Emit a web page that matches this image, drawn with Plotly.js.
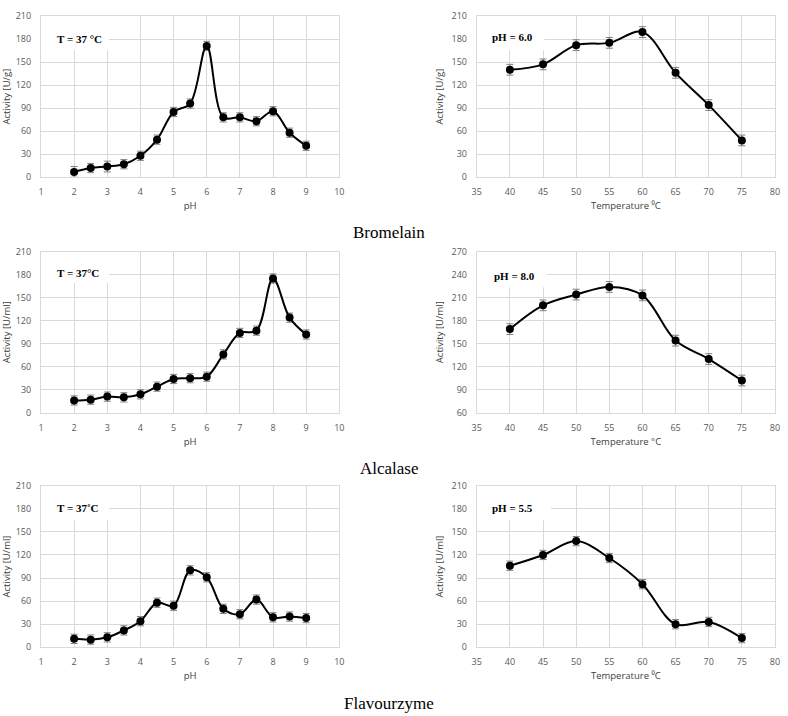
<!DOCTYPE html>
<html><head><meta charset="utf-8">
<script src="https://cdn.plot.ly/plotly-3.0.1.min.js"></script>
<style>html,body{margin:0;padding:0;background:#fff}</style>
</head><body><div id="chart" style="width:788px;height:716px"></div>
<script>
// ---- data ----
const phLevels = [2, 2.5, 3, 3.5, 4, 4.5, 5, 5.5, 6, 6.5, 7, 7.5, 8, 8.5, 9];
const tempLevels = [40, 45, 50, 55, 60, 65, 70, 75];

const bromelainPh = [7, 12, 14, 17, 28, 49, 85, 96, 171, 78, 78, 73, 86, 58, 41];
const bromelainPhErr = [7, 6, 7, 6, 6, 6, 6, 6, 6, 6, 6, 6, 6, 6, 6];
const bromelainTemp = [140, 147, 172, 175, 189, 136, 94, 48];
const bromelainTempErr = [7, 7, 7, 7, 7, 7, 7, 7];

const alcalasePh = [16, 17, 21, 20, 24, 34, 44, 45, 47, 76, 104, 107, 175, 124, 102];
const alcalasePhErr = [6, 6, 6, 6, 6, 6, 6, 6, 6, 6, 6, 6, 6, 6, 6];
const alcalaseTemp = [169, 200, 214, 224, 213, 154, 130, 102];
const alcalaseTempErr = [7, 7, 7, 7, 7, 7, 7, 7];

const flavourzymePh = [11, 10, 13, 22, 34, 58, 54, 100, 91, 50, 43, 62, 39, 40, 38];
const flavourzymePhErr = [6, 6, 6, 6, 6, 6, 6, 6, 6, 6, 6, 6, 6, 6, 6];
const flavourzymeTemp = [106, 120, 138, 116, 82, 30, 33, 12];
const flavourzymeTempErr = [6, 6, 6, 6, 6, 6, 6, 6];

const enzymeNames = ['Bromelain', 'Alcalase', 'Flavourzyme'];
const phNotes = ['T = 37 °C', 'T = 37°C', 'T = 37˚C'];
const tempNotes = ['pH = 6.0', 'pH = 8.0', 'pH = 5.5'];
const yTitlesLeft = ['Activity [U/g]', 'Activity [U/ml]', 'Activity [U/ml]'];
const yTitlesRight = ['Activity [U/g]', 'Activity [U/ml]', 'Activity [U/ml]'];
const tempTitles = ['Temperature ⁰C', 'Temperature °C', 'Temperature ⁰C'];

// ---- styling ----
const GRID = '#d9d9d9';
const TICKC = '#595959';
const tickFont = {family: "'Liberation Sans Narrow', 'Open Sans', sans-serif", size: 9, color: TICKC};
const titleFont = {family: "'Liberation Sans Narrow', 'Open Sans', sans-serif", size: 9.5, color: '#404040'};

function series(x, y, err, n) {
  return {
    type: 'scatter', mode: 'lines+markers', x: x, y: y,
    xaxis: 'x' + (n === 1 ? '' : n), yaxis: 'y' + (n === 1 ? '' : n),
    line: {color: '#000', width: 2, shape: 'spline', smoothing: 1},
    marker: {color: '#000', size: 8},
    error_y: {type: 'data', array: err, visible: true, color: '#7f7f7f', thickness: 1, width: 3.5},
    showlegend: false, hoverinfo: 'x+y'
  };
}

const data = [
  series(phLevels, bromelainPh, bromelainPhErr, 1),
  series(tempLevels, bromelainTemp, bromelainTempErr, 2),
  series(phLevels, alcalasePh, alcalasePhErr, 3),
  series(tempLevels, alcalaseTemp, alcalaseTempErr, 4),
  series(phLevels, flavourzymePh, flavourzymePhErr, 5),
  series(tempLevels, flavourzymeTemp, flavourzymeTempErr, 6)
];

const xL = [0.0520, 0.4306], xR = [0.6050, 0.9835];
const rows = [[0.7524, 0.9777], [0.4236, 0.6485], [0.0959, 0.3217]];

function xax(dom, range, dtick, title) {
  return {
    domain: dom, range: range, dtick: dtick, tick0: range[0],
    showgrid: true, gridcolor: GRID, gridwidth: 1, zeroline: false,
    showline: true, linecolor: GRID, linewidth: 1, mirror: true,
    ticks: '', tickfont: tickFont, ticklabelstandoff: 6,
    title: {text: title, font: titleFont, standoff: 5},
    fixedrange: true
  };
}
function yax(dom, range, dtick, title) {
  return {
    domain: dom, range: range, dtick: dtick, tick0: range[0],
    showgrid: true, gridcolor: GRID, gridwidth: 1, zeroline: false,
    showline: true, linecolor: GRID, linewidth: 1, mirror: true,
    ticks: '', tickfont: tickFont, ticklabelstandoff: 7,
    title: {text: title, font: titleFont, standoff: 6},
    fixedrange: true
  };
}

const layout = {
  width: 788, height: 716,
  margin: {l: 0, r: 0, t: 0, b: 0},
  paper_bgcolor: '#fff', plot_bgcolor: '#fff',
  showlegend: false,
  xaxis: xax(xL, [1, 10], 1, 'pH'),
  yaxis: yax(rows[0], [0, 210], 30, yTitlesLeft[0]),
  xaxis2: xax(xR, [35, 80], 5, tempTitles[0]),
  yaxis2: yax(rows[0], [0, 210], 30, yTitlesRight[0]),
  xaxis3: xax(xL, [1, 10], 1, 'pH'),
  yaxis3: yax(rows[1], [0, 210], 30, yTitlesLeft[1]),
  xaxis4: xax(xR, [35, 80], 5, tempTitles[1]),
  yaxis4: yax(rows[1], [60, 270], 30, yTitlesRight[1]),
  xaxis5: xax(xL, [1, 10], 1, 'pH'),
  yaxis5: yax(rows[2], [0, 210], 30, yTitlesLeft[2]),
  xaxis6: xax(xR, [35, 80], 5, tempTitles[2]),
  yaxis6: yax(rows[2], [0, 210], 30, yTitlesRight[2]),
  shapes: [], annotations: []
};
layout.xaxis2.anchor = 'y2'; layout.yaxis2.anchor = 'x2';
layout.xaxis3.anchor = 'y3'; layout.yaxis3.anchor = 'x3';
layout.xaxis4.anchor = 'y4'; layout.yaxis4.anchor = 'x4';
layout.xaxis5.anchor = 'y5'; layout.yaxis5.anchor = 'x5';
layout.xaxis6.anchor = 'y6'; layout.yaxis6.anchor = 'x6';

// white label boxes that hide gridlines behind the condition notes
const boxes = [
  {n: 1, x0: 1, x1: 3.05, y0: 165.5, y1: 210},
  {n: 2, x0: 35, x1: 45.2, y0: 165.5, y1: 210},
  {n: 3, x0: 1, x1: 3.05, y0: 169, y1: 210},
  {n: 4, x0: 35, x1: 45.6, y0: 223.5, y1: 270},
  {n: 5, x0: 1, x1: 3.05, y0: 165, y1: 210},
  {n: 6, x0: 35, x1: 46.2, y0: 165, y1: 210}
];
boxes.forEach(b => {
  const s = b.n === 1 ? '' : b.n;
  layout.shapes.push({type: 'rect', xref: 'x' + s, yref: 'y' + s, x0: b.x0, x1: b.x1, y0: b.y0, y1: b.y1,
    fillcolor: '#fff', line: {width: 0}, layer: 'between'});
});

const noteFont = {family: "'Liberation Serif', 'DejaVu Serif', serif", size: 11, color: '#000'};
const notePos = [
  {n: 1, x: 1.42, y: 180, t: phNotes[0]},
  {n: 2, x: 36.96, y: 182.5, t: tempNotes[0]},
  {n: 3, x: 1.42, y: 182, t: phNotes[1]},
  {n: 4, x: 37.3, y: 238.7, t: tempNotes[1]},
  {n: 5, x: 1.42, y: 181, t: phNotes[2]},
  {n: 6, x: 37.0, y: 181, t: tempNotes[2]}
];
notePos.forEach(p => {
  const s = p.n === 1 ? '' : p.n;
  layout.annotations.push({xref: 'x' + s, yref: 'y' + s, x: p.x, y: p.y, text: '<b>' + p.t + '</b>',
    showarrow: false, xanchor: 'left', yanchor: 'middle', font: noteFont});
});

const nameY = [1 - 232 / 716, 1 - 468 / 716, 1 - 703 / 716];
enzymeNames.forEach((nm, i) => {
  layout.annotations.push({xref: 'paper', yref: 'paper', x: 389 / 788, y: nameY[i], text: nm,
    showarrow: false, xanchor: 'center', yanchor: 'middle',
    font: {family: "'Liberation Serif', 'DejaVu Serif', serif", size: 17, color: '#000'}});
});

Plotly.newPlot('chart', data, layout, {displayModeBar: false, staticPlot: true});
</script></body></html>
